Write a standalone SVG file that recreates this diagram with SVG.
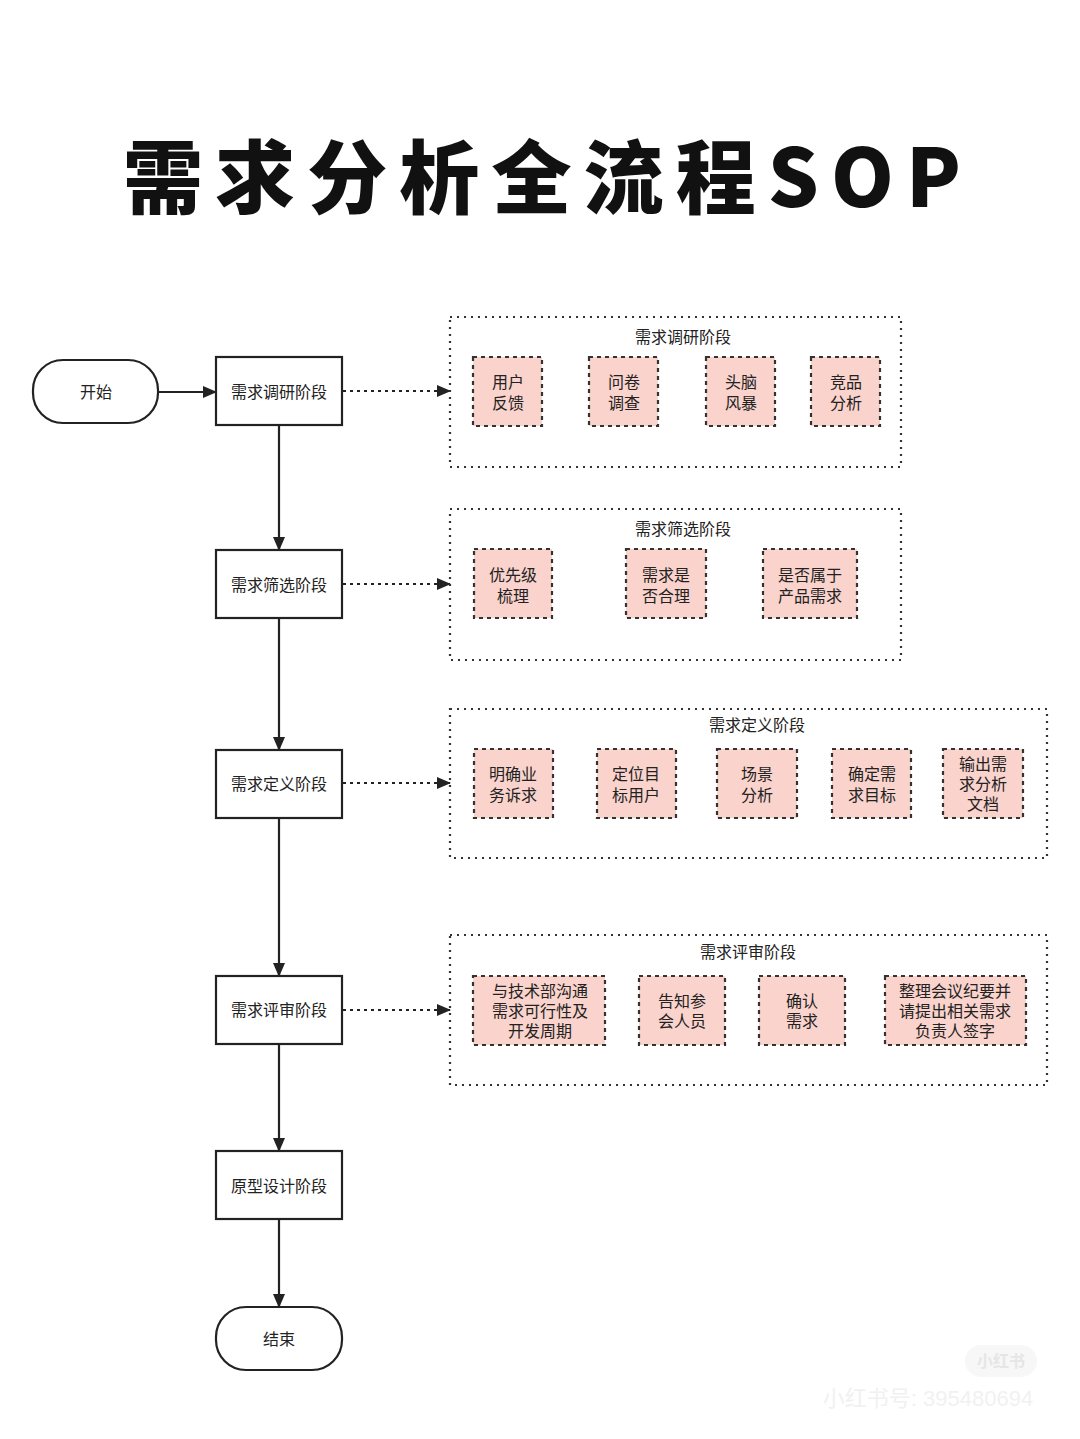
<svg xmlns="http://www.w3.org/2000/svg" width="1080" height="1439" viewBox="0 0 1080 1439">
<defs>
<marker id="ah" markerWidth="14" markerHeight="12" refX="13" refY="6" orient="auto" markerUnits="userSpaceOnUse">
<path d="M0,0 L14,6 L0,12 Z" fill="#222"/>
</marker>
<style>
text{font-family:"Liberation Sans","Noto Sans CJK SC",sans-serif;fill:#222}
.t{font-size:16px;text-anchor:middle;dominant-baseline:central}
.node{fill:#fff;stroke:#222;stroke-width:2.2}
.grp{fill:none;stroke:#333;stroke-width:2.2;stroke-dasharray:2 5}
.sub{fill:#f9d3cc;stroke:#333;stroke-width:2.2;stroke-dasharray:4 4}
.edge{fill:none;stroke:#222;stroke-width:2.2;marker-end:url(#ah)}
.dot{fill:none;stroke:#222;stroke-width:2.2;stroke-dasharray:3 4;marker-end:url(#ah)}
</style>
</defs>
<rect width="1080" height="1439" fill="#fff"/>
<text x="542" y="207" font-size="80" font-weight="900" text-anchor="middle" textLength="838" lengthAdjust="spacing" style="font-family:'Noto Sans CJK SC',sans-serif;fill:#111">需求分析全流程SOP</text>

<g id="connectors">
<line class="edge" x1="158" y1="392" x2="216" y2="392"/>
<line class="dot" x1="343" y1="391" x2="450" y2="391"/>
<line class="dot" x1="343" y1="584" x2="450" y2="584"/>
<line class="dot" x1="343" y1="783" x2="450" y2="783"/>
<line class="dot" x1="343" y1="1010" x2="450" y2="1010"/>
<line class="edge" x1="279" y1="425" x2="279" y2="550"/>
<line class="edge" x1="279" y1="618" x2="279" y2="750"/>
<line class="edge" x1="279" y1="818" x2="279" y2="976"/>
<line class="edge" x1="279" y1="1044" x2="279" y2="1151"/>
<line class="edge" x1="279" y1="1219" x2="279" y2="1307"/>
</g>

<g id="start"><rect class="node" x="33" y="360" width="125" height="63" rx="30"/><text class="t" x="96" y="392">开始</text></g>
<g id="stage1"><rect class="node" x="216" y="357" width="126" height="68"/><text class="t" x="279" y="392">需求调研阶段</text></g>
<g id="stage2"><rect class="node" x="216" y="550" width="126" height="68"/><text class="t" x="279" y="585">需求筛选阶段</text></g>
<g id="stage3"><rect class="node" x="216" y="750" width="126" height="68"/><text class="t" x="279" y="784">需求定义阶段</text></g>
<g id="stage4"><rect class="node" x="216" y="976" width="126" height="68"/><text class="t" x="279" y="1010">需求评审阶段</text></g>
<g id="stage5"><rect class="node" x="216" y="1151" width="126" height="68"/><text class="t" x="279" y="1186">原型设计阶段</text></g>
<g id="end"><rect class="node" x="216" y="1307" width="126" height="63" rx="30"/><text class="t" x="279" y="1339">结束</text></g>

<g id="group1">
<rect class="grp" x="450" y="317" width="451" height="150"/>
<text class="t" x="683" y="337">需求调研阶段</text>
<g id="g1a"><rect class="sub" x="473" y="357" width="69" height="69"/><text class="t" x="508" y="382">用户</text><text class="t" x="508" y="403">反馈</text></g>
<g id="g1b"><rect class="sub" x="589" y="357" width="69" height="69"/><text class="t" x="624" y="382">问卷</text><text class="t" x="624" y="403">调查</text></g>
<g id="g1c"><rect class="sub" x="706" y="357" width="69" height="69"/><text class="t" x="741" y="382">头脑</text><text class="t" x="741" y="403">风暴</text></g>
<g id="g1d"><rect class="sub" x="811" y="357" width="69" height="69"/><text class="t" x="846" y="382">竞品</text><text class="t" x="846" y="403">分析</text></g>
</g>

<g id="group2">
<rect class="grp" x="450" y="509" width="451" height="151"/>
<text class="t" x="683" y="529">需求筛选阶段</text>
<g id="g2a"><rect class="sub" x="474" y="549" width="78" height="69"/><text class="t" x="513" y="575">优先级</text><text class="t" x="513" y="596">梳理</text></g>
<g id="g2b"><rect class="sub" x="626" y="549" width="80" height="69"/><text class="t" x="666" y="575">需求是</text><text class="t" x="666" y="596">否合理</text></g>
<g id="g2c"><rect class="sub" x="763" y="549" width="94" height="69"/><text class="t" x="810" y="575">是否属于</text><text class="t" x="810" y="596">产品需求</text></g>
</g>

<g id="group3">
<rect class="grp" x="450" y="709" width="597" height="149"/>
<text class="t" x="757" y="725">需求定义阶段</text>
<g id="g3a"><rect class="sub" x="474" y="749" width="79" height="69"/><text class="t" x="513" y="774">明确业</text><text class="t" x="513" y="795">务诉求</text></g>
<g id="g3b"><rect class="sub" x="597" y="749" width="79" height="69"/><text class="t" x="636" y="774">定位目</text><text class="t" x="636" y="795">标用户</text></g>
<g id="g3c"><rect class="sub" x="717" y="749" width="80" height="69"/><text class="t" x="757" y="774">场景</text><text class="t" x="757" y="795">分析</text></g>
<g id="g3d"><rect class="sub" x="832" y="749" width="79" height="69"/><text class="t" x="872" y="774">确定需</text><text class="t" x="872" y="795">求目标</text></g>
<g id="g3e"><rect class="sub" x="943" y="749" width="80" height="69"/><text class="t" x="983" y="764">输出需</text><text class="t" x="983" y="784">求分析</text><text class="t" x="983" y="804">文档</text></g>
</g>

<g id="group4">
<rect class="grp" x="450" y="935" width="597" height="150"/>
<text class="t" x="748" y="952">需求评审阶段</text>
<g id="g4a"><rect class="sub" x="473" y="976" width="132" height="69"/><text class="t" x="540" y="991">与技术部沟通</text><text class="t" x="540" y="1011">需求可行性及</text><text class="t" x="540" y="1031">开发周期</text></g>
<g id="g4b"><rect class="sub" x="639" y="976" width="86" height="69"/><text class="t" x="682" y="1001">告知参</text><text class="t" x="682" y="1021">会人员</text></g>
<g id="g4c"><rect class="sub" x="759" y="976" width="86" height="69"/><text class="t" x="802" y="1001">确认</text><text class="t" x="802" y="1021">需求</text></g>
<g id="g4d"><rect class="sub" x="885" y="976" width="141" height="69"/><text class="t" x="955" y="991">整理会议纪要并</text><text class="t" x="955" y="1011">请提出相关需求</text><text class="t" x="955" y="1031">负责人签字</text></g>
</g>

<g id="watermark">
<rect x="965" y="1345" width="72" height="32" rx="16" fill="#f7f7f7"/>
<text x="1001" y="1367" font-size="16" font-weight="bold" text-anchor="middle" style="fill:#e6e6e6">小红书</text>
<text x="928" y="1406" font-size="22" text-anchor="middle" style="fill:#f1f1f1">小红书号: 395480694</text>
</g>
</svg>
